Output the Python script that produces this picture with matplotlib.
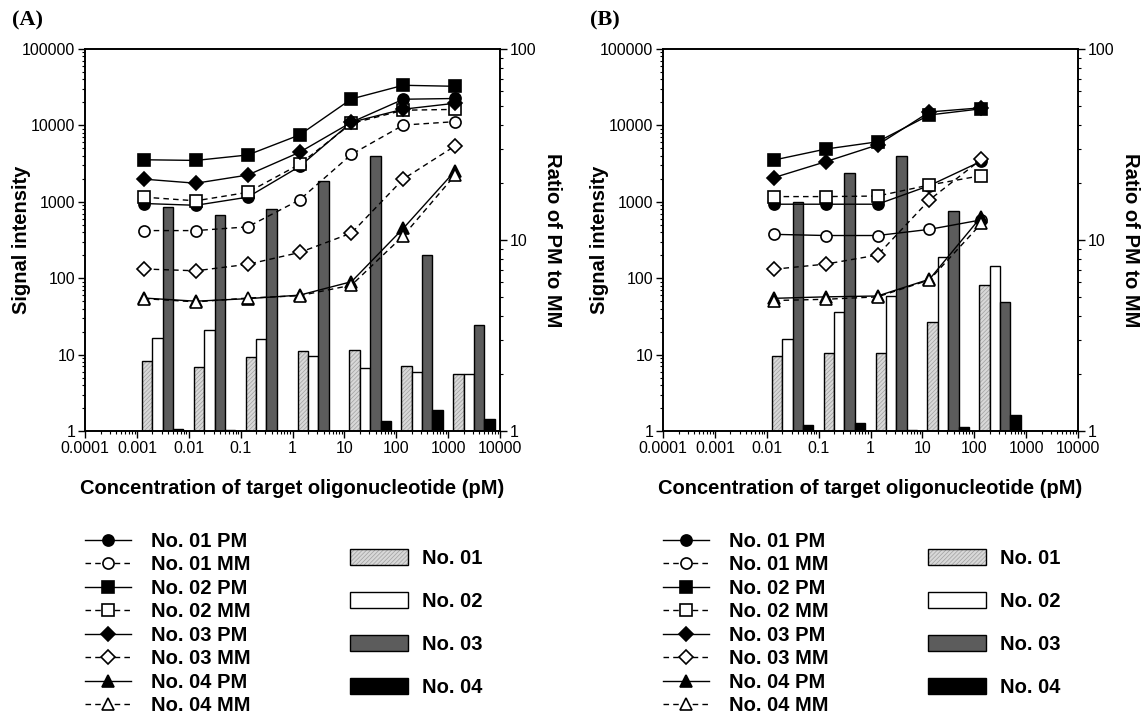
import numpy as np
import matplotlib
matplotlib.use("Agg")
import matplotlib.pyplot as plt
from matplotlib import ticker
from matplotlib.lines import Line2D
from matplotlib.patches import Patch

plt.rcParams["font.family"] = ["Liberation Sans", "DejaVu Sans"]
plt.rcParams["hatch.linewidth"] = 0.5

# ---- data ----
conc_a = [0.00137, 0.0137, 0.137, 1.37, 13.7, 137, 1370]
pm01_a = [950, 900, 1150, 2900, 11000, 22000, 22500]
mm01_a = [420, 420, 470, 1060, 4180, 10100, 11200]
pm02_a = [3550, 3480, 4100, 7500, 22200, 33500, 32500]
mm02_a = [1150, 1030, 1330, 3100, 10600, 15800, 16200]
pm03_a = [1980, 1750, 2240, 4450, 11000, 16300, 19500]
mm03_a = [132, 125, 152, 217, 390, 1990, 5400]
pm04_a = [55, 50, 54, 60, 90, 450, 2550]
mm04_a = [54, 49, 55, 59, 81, 360, 2250]
ratio01_a = [2.32, 2.16, 2.44, 2.63, 2.66, 2.19, 1.99]
ratio02_a = [3.06, 3.38, 3.02, 2.47, 2.15, 2.04, 1.99]
ratio03_a = [14.9, 13.5, 14.5, 20.4, 27.5, 8.3, 3.57]
ratio04_a = [1.03, 1.01, 1.0, 1.0, 1.13, 1.29, 1.16]

conc_b = [0.0137, 0.137, 1.37, 13.7, 137]
pm01_b = [930, 930, 930, 1630, 3400]
mm01_b = [375, 362, 362, 436, 580]
pm02_b = [3520, 4900, 6100, 13700, 16500]
mm02_b = [1170, 1170, 1190, 1660, 2200]
pm03_b = [2070, 3350, 5550, 15000, 17000]
mm03_b = [131, 153, 201, 1060, 3600]
pm04_b = [54.5, 57, 58.5, 97, 640]
mm04_b = [51, 53, 57, 95, 520]
ratio01_b = [2.47, 2.55, 2.55, 3.73, 5.81]
ratio02_b = [3.03, 4.21, 5.11, 8.11, 7.34]
ratio03_b = [15.9, 22.3, 27.6, 14.2, 4.72]
ratio04_b = [1.075, 1.097, 1.01, 1.05, 1.21]

line_labels = ["No. 01 PM", "No. 01 MM", "No. 02 PM", "No. 02 MM",
               "No. 03 PM", "No. 03 MM", "No. 04 PM", "No. 04 MM"]
bar_labels = ["No. 01", "No. 02", "No. 03", "No. 04"]

# ---- styles ----
MARKERS = ["o", "o", "s", "s", "D", "D", "^", "^"]
MSIZE = {"o": 8, "s": 8, "D": 7, "^": 8.5}
DASH = (0, (4, 3))
BAR_FC = ["#d8d8d8", "white", "#5c5c5c", "black"]
HATCH_EC = "#a0a0a0"
FS_LABEL = 14.5
FS_TICK = 11.5


def line_style(i, ls=None):
    m = MARKERS[i]
    return dict(marker=m, ms=MSIZE[m], mfc="black" if i % 2 == 0 else "white",
                mec="black", mew=1.2, color="black", lw=1.0,
                ls=ls if ls else ("-" if i % 2 == 0 else DASH))


def draw_bars(ax, conc, ratios):
    conc = np.array(conc)
    for k, vals in enumerate(ratios):
        left = conc * 10 ** (k * 0.2 - 0.04)
        width = left * (10 ** 0.2 - 1)
        h = np.array(vals) - 1
        if k == 0:
            # hatch drawn in grey, outline drawn separately in black
            ax.bar(left, h, width=width, bottom=1, align="edge", color=BAR_FC[0],
                   edgecolor=HATCH_EC, hatch="////////", linewidth=0)
            ax.bar(left, h, width=width, bottom=1, align="edge", fill=False,
                   edgecolor="black", linewidth=1.0)
        else:
            ax.bar(left, h, width=width, bottom=1, align="edge", facecolor=BAR_FC[k],
                   edgecolor="black", linewidth=1.0)


def panel(fig, left_px, conc, series, ratios, tag, overrides=None):
    overrides = overrides or {}
    W, H = 1145, 715
    rect = [left_px / W, 1 - 431 / H, 415 / W, 382 / H]
    ax = fig.add_axes(rect)
    ax2 = ax.twinx()
    ax.set_zorder(ax2.get_zorder() + 1)
    ax.patch.set_visible(False)

    draw_bars(ax2, conc, ratios)
    for i, vals in enumerate(series):
        ax.plot(conc, vals, **line_style(i, overrides.get(i)))

    ax.set_xscale("log")
    ax.set_yscale("log")
    ax2.set_yscale("log")
    ax.set_xlim(1e-4, 1e4)
    ax.set_ylim(1, 1e5)
    ax2.set_ylim(1, 100)

    fmt = ticker.FuncFormatter(lambda v, p: f"{v:g}")
    ax.xaxis.set_major_locator(ticker.LogLocator(base=10, numticks=20))
    ax.xaxis.set_minor_locator(ticker.LogLocator(base=10, subs=np.arange(2, 10), numticks=20))
    for a in (ax.xaxis, ax.yaxis, ax2.yaxis):
        a.set_major_formatter(fmt)
        a.set_minor_formatter(ticker.NullFormatter())
    for a in (ax, ax2):
        a.tick_params(which="major", direction="out", length=5, width=1, labelsize=FS_TICK, pad=2)
        a.tick_params(which="minor", direction="out", length=2.5, width=0.8)
        for s in a.spines.values():
            s.set_linewidth(1.2)
    ax.tick_params(axis="x", which="both", top=False)

    ax.set_ylabel("Signal intensity", fontsize=FS_LABEL, fontweight="bold")
    ax.yaxis.set_label_coords(-0.13, 0.5)
    ax2.set_ylabel("Ratio of PM to MM", fontsize=FS_LABEL, fontweight="bold",
                   rotation=270, va="bottom")
    ax2.yaxis.set_label_coords(1.103, 0.5)
    ax.set_xlabel("Concentration of target oligonucleotide (pM)",
                  fontsize=FS_LABEL, fontweight="bold")
    ax.xaxis.set_label_coords(0.5, -0.125)

    fig.text((left_px - 73) / W, 1 - 10 / H, tag, family=["Liberation Serif", "DejaVu Serif"],
             fontweight="bold", fontsize=16, va="top", ha="left")

    # line legend
    handles = [Line2D([], [], **line_style(i)) for i in range(8)]
    fig.legend(handles, line_labels, loc="upper left",
               bbox_to_anchor=(left_px / W, 1 - 532 / H), bbox_transform=fig.transFigure,
               frameon=False, borderpad=0, borderaxespad=0, handlelength=2.3,
               handletextpad=1.0, labelspacing=0.22,
               prop=dict(size=FS_LABEL, weight="bold"))

    # bar legend
    bh = [(Patch(facecolor=BAR_FC[0], edgecolor=HATCH_EC, hatch="////////", linewidth=0),
           Patch(fill=False, edgecolor="black", linewidth=1.0))]
    bh += [Patch(facecolor=BAR_FC[k], edgecolor="black", linewidth=1.0) for k in range(1, 4)]
    fig.legend(bh, bar_labels, loc="upper left",
               bbox_to_anchor=((left_px + 265) / W, 1 - 549 / H), bbox_transform=fig.transFigure,
               frameon=False, borderpad=0, borderaxespad=0, handlelength=2.9,
               handleheight=0.8, handletextpad=0.7, labelspacing=1.19,
               prop=dict(size=FS_LABEL, weight="bold"))
    return ax


fig = plt.figure(figsize=(11.45, 7.15), dpi=100)
panel(fig, 85, conc_a,
      [pm01_a, mm01_a, pm02_a, mm02_a, pm03_a, mm03_a, pm04_a, mm04_a],
      [ratio01_a, ratio02_a, ratio03_a, ratio04_a], "(A)")
panel(fig, 663, conc_b,
      [pm01_b, mm01_b, pm02_b, mm02_b, pm03_b, mm03_b, pm04_b, mm04_b],
      [ratio01_b, ratio02_b, ratio03_b, ratio04_b], "(B)", overrides={1: "-"})

fig.savefig("out.png", dpi=100, facecolor="white")
